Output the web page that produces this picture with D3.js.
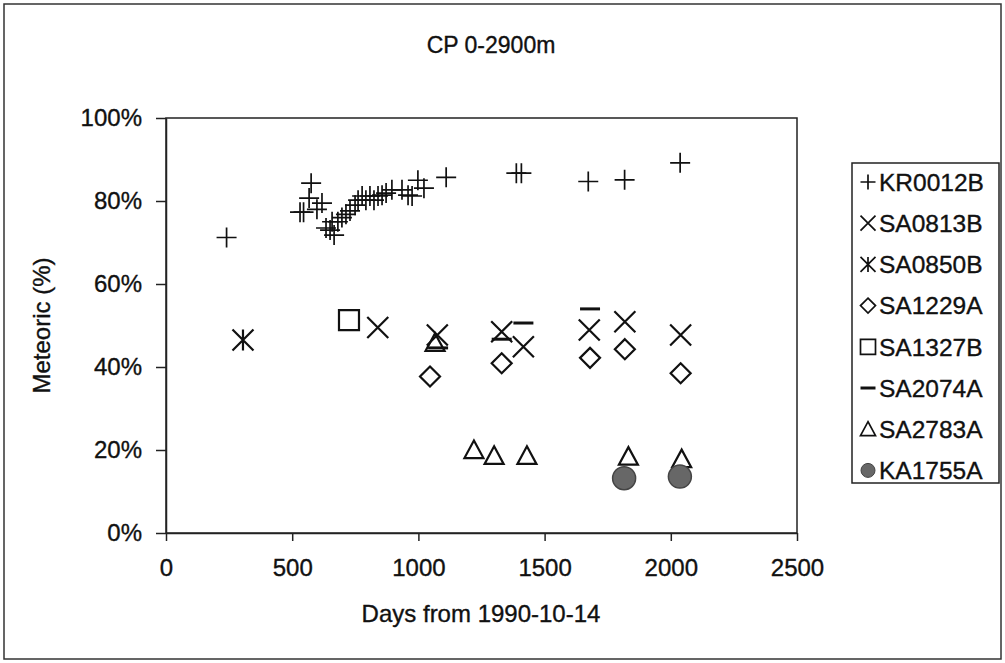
<!DOCTYPE html>
<html>
<head>
<meta charset="utf-8">
<script src="https://cdn.jsdelivr.net/npm/d3@7"></script>
<style>
  html, body { margin: 0; padding: 0; background: #fff; }
  svg { display: block; }
  text { font-family: "Liberation Sans", Arial, sans-serif; fill: #111; stroke: #111; stroke-width: 0.35px; }
</style>
</head>
<body>
<svg id="chart" width="1005" height="663"></svg>
<script>
// ---- data ----
const titleText = "CP 0-2900m";
const xLabel = "Days from 1990-10-14";
const yLabel = "Meteoric (%)";
const xTicks = [0, 500, 1000, 1500, 2000, 2500];
const yTicks = [0, 20, 40, 60, 80, 100];

const seriesNames = ["KR0012B", "SA0813B", "SA0850B", "SA1229A", "SA1327B", "SA2074A", "SA2783A", "KA1755A"];

const kr0012bDays = [240, 531, 545, 567, 575, 598, 618, 634, 650, 666, 658, 681, 697, 713, 729, 749, 761, 777, 792, 808, 824, 840, 856, 872, 895, 935, 959, 975, 998, 1022, 1110, 1388, 1408, 1673, 1817, 2037];
const kr0012bPct  = [71.2, 77.3, 77.3, 80.7, 84.3, 78, 79.5, 73.5, 73, 71.8, 75, 75, 76, 76.8, 77.6, 79, 80.2, 81.2, 80.2, 81.2, 80.2, 81.2, 81.4, 81.9, 82.7, 82.7, 81.4, 81.2, 85, 83.1, 85.7, 86.7, 86.7, 84.7, 85.1, 89.2];

const sa0813bDays = [839, 1075, 1330, 1416, 1677, 1818, 2039];
const sa0813bPct  = [49.5, 47.7, 48.5, 44.9, 48.9, 50.9, 47.7];

const sa0850bDays = [305];
const sa0850bPct  = [46.5];

const sa1229aDays = [1046, 1330, 1680, 1818, 2039];
const sa1229aPct  = [37.7, 40.9, 42.2, 44.3, 38.5];

const sa1327bDays = [725];
const sa1327bPct  = [51.3];

const sa2074aDays = [1078, 1330, 1416, 1680];
const sa2074aPct  = [44.6, 46.7, 50.6, 54.0];

const sa2783aDays = [1066, 1220, 1300, 1430, 1832, 2043];
const sa2783aPct  = [45.8, 20.0, 18.6, 18.6, 18.4, 17.8];

const ka1755aDays = [1815, 2036];
const ka1755aPct  = [13.2, 13.6];

// ---- layout ----
const svg = d3.select("#chart");
const L = 166, R = 797, T = 118, B = 533;
const x = d3.scaleLinear().domain([0, 2500]).range([L, R]);
const y = d3.scaleLinear().domain([0, 100]).range([B, T]);

// outer border
svg.append("rect").attr("x", 4).attr("y", 4).attr("width", 997).attr("height", 655)
  .attr("fill", "none").attr("stroke", "#333").attr("stroke-width", 1.5);

// title
svg.append("text").attr("x", 491).attr("y", 53).attr("text-anchor", "middle")
  .style("font-size", "23px").text(titleText);

// plot border
svg.append("rect").attr("x", L).attr("y", T).attr("width", R - L).attr("height", B - T)
  .attr("fill", "none").attr("stroke", "#222").attr("stroke-width", 1.5);

// axes
const yAxis = d3.axisLeft(y).tickValues(yTicks).tickFormat(d => d + "%").tickSize(10).tickSizeOuter(0).tickPadding(14);
const gy = svg.append("g").attr("transform", `translate(${L},0)`).call(yAxis);
const xAxis = d3.axisBottom(x).tickValues(xTicks).tickFormat(d3.format("d")).tickSize(8).tickSizeOuter(0).tickPadding(18);
const gx = svg.append("g").attr("transform", `translate(0,${B})`).call(xAxis);
[gx, gy].forEach(g => {
  g.select(".domain").attr("stroke", "#222").attr("stroke-width", 1.5);
  g.selectAll(".tick line").attr("stroke", "#222").attr("stroke-width", 1.5);
  g.selectAll("text").style("font-size", "24px").style("font-family", "'Liberation Sans', Arial, sans-serif")
    .attr("fill", "#111").attr("stroke", "#111").attr("stroke-width", 0.35);
});

// axis titles
svg.append("text").attr("x", 481).attr("y", 622).attr("text-anchor", "middle")
  .style("font-size", "24px").text(xLabel);
svg.append("text").attr("transform", `translate(50,${(T + B) / 2}) rotate(-90)`).attr("text-anchor", "middle")
  .style("font-size", "24px").text(yLabel);

// ---- marker shapes ----
function shapePath(kind, s) {
  const h = s / 2;
  switch (kind) {
    case "plus": return `M${-h},0H${h}M0,${-h}V${h}`;
    case "x": return `M${-h},${-h}L${h},${h}M${-h},${h}L${h},${-h}`;
    case "star": return `M${-h},${-h}L${h},${h}M${-h},${h}L${h},${-h}M0,${-h}V${h}`;
    case "diamond": return `M0,${-h}L${h},0L0,${h}L${-h},0Z`;
    case "square": return `M${-h},${-h}H${h}V${h}H${-h}Z`;
    case "dash": return `M${-h},0H${h}`;
    case "triangle": return `M0,${-h}L${h},${h * 0.85}L${-h},${h * 0.85}Z`;
    default: return "";
  }
}

const series = [
  { name: seriesNames[0], days: kr0012bDays, pct: kr0012bPct, kind: "plus", size: 20, sw: 1.7 },
  { name: seriesNames[1], days: sa0813bDays, pct: sa0813bPct, kind: "x", size: 21, sw: 2.2 },
  { name: seriesNames[2], days: sa0850bDays, pct: sa0850bPct, kind: "star", size: 21, sw: 2.2 },
  { name: seriesNames[3], days: sa1229aDays, pct: sa1229aPct, kind: "diamond", size: 20, sw: 2.2 },
  { name: seriesNames[4], days: sa1327bDays, pct: sa1327bPct, kind: "square", size: 20, sw: 2.2 },
  { name: seriesNames[5], days: sa2074aDays, pct: sa2074aPct, kind: "dash", size: 20, sw: 3 },
  { name: seriesNames[6], days: sa2783aDays, pct: sa2783aPct, kind: "triangle", size: 19, sw: 2.2 },
  { name: seriesNames[7], days: ka1755aDays, pct: ka1755aPct, kind: "circle", size: 23, sw: 1.5 }
];

series.forEach(s => {
  const pts = s.days.map((d, i) => ({ d, p: s.pct[i] }));
  const g = svg.append("g");
  if (s.kind === "circle") {
    g.selectAll("circle").data(pts).join("circle")
      .attr("cx", p => x(p.d)).attr("cy", p => y(p.p)).attr("r", s.size / 2)
      .attr("fill", "#676767").attr("stroke", "#444").attr("stroke-width", s.sw);
  } else {
    g.selectAll("path").data(pts).join("path")
      .attr("transform", p => `translate(${x(p.d)},${y(p.p)})`)
      .attr("d", shapePath(s.kind, s.size))
      .attr("fill", "none").attr("stroke", "#111").attr("stroke-width", s.sw);
  }
});

// ---- legend ----
const lg = svg.append("g");
lg.append("rect").attr("x", 852).attr("y", 163).attr("width", 147).attr("height", 320)
  .attr("fill", "#fff").attr("stroke", "#222").attr("stroke-width", 1.5);
series.forEach((s, i) => {
  const cy = 182 + i * 41.2;
  if (s.kind === "circle") {
    lg.append("circle").attr("cx", 868).attr("cy", cy).attr("r", 7)
      .attr("fill", "#676767").attr("stroke", "#444").attr("stroke-width", 1);
  } else {
    lg.append("path").attr("transform", `translate(868,${cy})`)
      .attr("d", shapePath(s.kind, 15))
      .attr("fill", "none").attr("stroke", "#111").attr("stroke-width", s.kind === "dash" ? 3 : 1.7);
  }
  lg.append("text").attr("x", 879).attr("y", cy).attr("dy", "0.36em")
    .style("font-size", "24.5px").text(s.name);
});
</script>
</body>
</html>
